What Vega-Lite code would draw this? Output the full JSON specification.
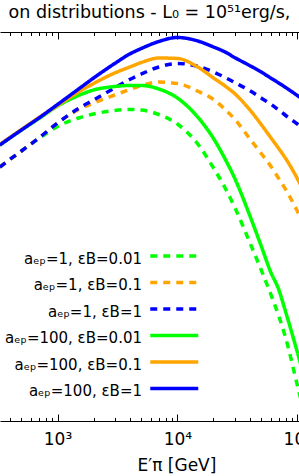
{
  "$schema": "https://vega.github.io/schema/vega-lite/v6.json",
  "width": 299,
  "height": 389,
  "autosize": {"type": "none"},
  "padding": {"left": 0, "top": 32, "right": 0, "bottom": 55},
  "title": {"text": "on distributions - L₀ = 10⁵¹erg/s,", "font": "DejaVu Sans", "fontSize": 17.5, "fontWeight": "normal", "anchor": "middle", "baseline": "alphabetic", "offset": -3.6, "color": "black"},
  "data": {"values": [
    {"E": 330, "g1": -1.35, "o1": -1.35, "b1": -1.35, "g100": -1.131, "o100": -1.125, "b100": -1.131},
    {"E": 400, "g1": -1.275, "o1": -1.275, "b1": -1.275, "g100": -1.06, "o100": -1.055, "b100": -1.06},
    {"E": 500, "g1": -1.19, "o1": -1.19, "b1": -1.19, "g100": -0.98, "o100": -0.975, "b100": -0.98},
    {"E": 700, "g1": -1.065, "o1": -1.06, "b1": -1.06, "g100": -0.865, "o100": -0.855, "b100": -0.86},
    {"E": 1000, "g1": -0.945, "o1": -0.91, "b1": -0.91, "g100": -0.74, "o100": -0.735, "b100": -0.725},
    {"E": 1500, "g1": -0.86, "o1": -0.775, "b1": -0.765, "g100": -0.635, "o100": -0.60, "b100": -0.57},
    {"E": 2000, "g1": -0.82, "o1": -0.71, "b1": -0.68, "g100": -0.58, "o100": -0.515, "b100": -0.46},
    {"E": 3000, "g1": -0.785, "o1": -0.63, "b1": -0.56, "g100": -0.545, "o100": -0.41, "b100": -0.315},
    {"E": 4000, "g1": -0.775, "o1": -0.575, "b1": -0.475, "g100": -0.535, "o100": -0.35, "b100": -0.22},
    {"E": 5000, "g1": -0.78, "o1": -0.535, "b1": -0.42, "g100": -0.535, "o100": -0.305, "b100": -0.165},
    {"E": 7000, "g1": -0.825, "o1": -0.50, "b1": -0.35, "g100": -0.57, "o100": -0.26, "b100": -0.095},
    {"E": 10000, "g1": -0.92, "o1": -0.515, "b1": -0.315, "g100": -0.66, "o100": -0.265, "b100": -0.055},
    {"E": 15000, "g1": -1.13, "o1": -0.595, "b1": -0.345, "g100": -0.86, "o100": -0.355, "b100": -0.092},
    {"E": 20000, "g1": -1.36, "o1": -0.675, "b1": -0.40, "g100": -1.065, "o100": -0.46, "b100": -0.15},
    {"E": 25000, "g1": -1.56, "o1": -0.775, "b1": -0.455, "g100": -1.27, "o100": -0.54, "b100": -0.20},
    {"E": 30000, "g1": -1.75, "o1": -0.87, "b1": -0.505, "g100": -1.46, "o100": -0.615, "b100": -0.255},
    {"E": 40000, "g1": -2.10, "o1": -1.065, "b1": -0.585, "g100": -1.83, "o100": -0.775, "b100": -0.335},
    {"E": 50000, "g1": -2.38, "o1": -1.215, "b1": -0.66, "g100": -2.14, "o100": -0.925, "b100": -0.40},
    {"E": 60000, "g1": -2.62, "o1": -1.34, "b1": -0.72, "g100": -2.40, "o100": -1.055, "b100": -0.46},
    {"E": 70000, "g1": -2.84, "o1": -1.465, "b1": -0.78, "g100": -2.575, "o100": -1.165, "b100": -0.51},
    {"E": 80000, "g1": -3.06, "o1": -1.575, "b1": -0.835, "g100": -2.80, "o100": -1.265, "b100": -0.555},
    {"E": 100000, "g1": -3.53, "o1": -1.79, "b1": -0.92, "g100": -3.20, "o100": -1.465, "b100": -0.635},
    {"E": 110000, "g1": -3.73, "o1": -1.89, "b1": -0.96, "g100": -3.38, "o100": -1.56, "b100": -0.67}
  ]},
  "transform": [{"fold": ["g1", "o1", "b1", "g100", "o100", "b100"], "as": ["series", "logF"]}],
  "layer": [
    {
      "mark": {"type": "line", "clip": true, "strokeWidth": 3.5, "interpolate": "monotone", "strokeCap": "butt"},
      "encoding": {
        "x": {"field": "E", "type": "quantitative",
          "scale": {"type": "log", "domain": [331.4, 103320], "nice": false},
          "axis": {"orient": "bottom",
            "values": [400, 500, 600, 700, 800, 900, 1000, 2000, 3000, 4000, 5000, 6000, 7000, 8000, 9000, 10000, 20000, 30000, 40000, 50000, 60000, 70000, 80000, 90000, 100000],
            "labelExpr": "datum.value == 1000 ? '10³' : datum.value == 10000 ? '10⁴' : datum.value == 100000 ? '10⁵' : ''",
            "tickSize": {"condition": {"test": "datum.value == 1000 || datum.value == 10000 || datum.value == 100000", "value": -7}, "value": -3.5},
            "tickWidth": 1, "domainWidth": 1, "tickColor": "black", "domainColor": "black",
            "labelFontSize": 17, "labelFont": "DejaVu Sans", "labelColor": "black", "labelPadding": 17.3, "labelBaseline": "top",
            "labelFlush": false, "labelOverlap": false, "labelBound": false,
            "title": "E′π [GeV]", "titleFontSize": 17, "titleFont": "DejaVu Sans", "titleFontWeight": "normal", "titleColor": "black",
            "titleX": 176.5, "titleY": 49, "titleBaseline": "alphabetic", "titleAlign": "center", "grid": false}
        },
        "y": {"field": "logF", "type": "quantitative", "scale": {"domain": [-3.89, 0], "nice": false, "zero": false}, "axis": null},
        "color": {"field": "series", "type": "nominal",
          "scale": {"domain": ["g1", "o1", "b1", "g100", "o100", "b100"], "range": ["#00ff00", "#ffa500", "#0000ff", "#00ff00", "#ffa500", "#0000ff"]},
          "legend": {"orient": "none", "legendX": 166.25, "legendY": 218.95, "title": null, "symbolType": "M-4,-0.5H4", "symbolSize": 144, "symbolStrokeWidth": 3.5, "rowPadding": 8.5, "labelAlign": "right", "labelOffset": -40.25, "labelFontSize": 15, "labelFont": "DejaVu Sans", "labelColor": "black", "labelBaseline": "middle", "labelLimit": 300, "padding": 0,
            "labelExpr": "datum.label == 'g1' ? 'aₑₚ=1, εB=0.01' : datum.label == 'o1' ? 'aₑₚ=1, εB=0.1' : datum.label == 'b1' ? 'aₑₚ=1, εB=1' : datum.label == 'g100' ? 'aₑₚ=100, εB=0.01' : datum.label == 'o100' ? 'aₑₚ=100, εB=0.1' : 'aₑₚ=100, εB=1'"}
        },
        "strokeDash": {"field": "series", "type": "nominal",
          "scale": {"domain": ["g1", "o1", "b1", "g100", "o100", "b100"], "range": [[7, 6], [7, 6], [7, 6], [1, 0], [1, 0], [1, 0]]},
          "legend": {"orient": "none", "legendX": 166.25, "legendY": 218.95, "title": null, "symbolType": "M-4,-0.5H4", "symbolSize": 144, "symbolStrokeWidth": 3.5, "rowPadding": 8.5, "labelAlign": "right", "labelOffset": -40.25, "labelFontSize": 15, "labelFont": "DejaVu Sans", "labelColor": "black", "labelBaseline": "middle", "labelLimit": 300, "padding": 0,
            "labelExpr": "datum.label == 'g1' ? 'aₑₚ=1, εB=0.01' : datum.label == 'o1' ? 'aₑₚ=1, εB=0.1' : datum.label == 'b1' ? 'aₑₚ=1, εB=1' : datum.label == 'g100' ? 'aₑₚ=100, εB=0.01' : datum.label == 'o100' ? 'aₑₚ=100, εB=0.1' : 'aₑₚ=100, εB=1'"}
        }
      }
    },
    {
      "mark": {"type": "line", "opacity": 0},
      "encoding": {
        "x": {"field": "E", "type": "quantitative",
          "scale": {"type": "log", "domain": [331.4, 103320], "nice": false},
          "axis": {"orient": "top",
            "values": [400, 500, 600, 700, 800, 900, 1000, 2000, 3000, 4000, 5000, 6000, 7000, 8000, 9000, 10000, 20000, 30000, 40000, 50000, 60000, 70000, 80000, 90000, 100000],
            "labels": false, "title": null,
            "tickSize": {"condition": {"test": "datum.value == 1000 || datum.value == 10000 || datum.value == 100000", "value": -7}, "value": -3.5},
            "tickWidth": 1, "domainWidth": 1, "tickColor": "black", "domainColor": "black", "grid": false}
        },
        "y": {"field": "logF", "type": "quantitative", "scale": {"domain": [-3.89, 0], "nice": false, "zero": false}, "axis": null}
      }
    }
  ],
  "resolve": {"axis": {"x": "independent"}},
  "config": {"view": {"stroke": null}, "font": "DejaVu Sans", "background": "white"}
}
